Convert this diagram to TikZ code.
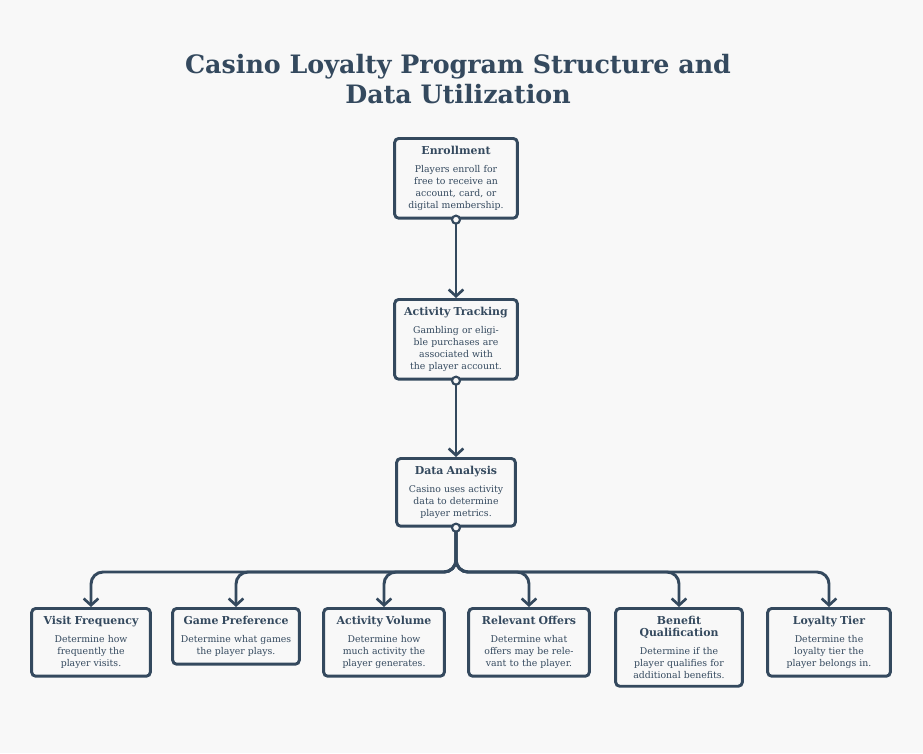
\documentclass[tikz,border=0pt]{standalone}
\usepackage{fontspec}
\setmainfont{DejaVu Serif}
\usetikzlibrary{arrows.meta,positioning}
\definecolor{ink}{HTML}{34495E}
\definecolor{bg}{HTML}{F8F8F8}
\tikzset{
  stepbox/.style={draw=ink, line width=2.2pt, rounded corners=3pt, fill=bg, anchor=north,
    align=center, inner xsep=4pt, inner ysep=6pt, text=ink, font=\fontsize{7}{9}\selectfont},
  link/.style={draw=ink, line width=2.2pt, rounded corners=9pt, -{Straight Barb[length=5pt,width=11pt,line width=2pt]}},
  dot/.style={circle, draw=ink, line width=1.6pt, fill=bg, inner sep=0pt, minimum size=6pt}
}
\newcommand{\boxhead}[1]{{\fontsize{8.2}{10}\selectfont\bfseries #1}\\[4pt]}
\begin{document}
\begin{tikzpicture}[x=0.75pt,y=-0.75pt]
\fill[bg] (0,0) rectangle (923,753);
\node[text=ink, font=\fontsize{19}{23}\selectfont\bfseries, align=center] (title) at (458,79) {Casino Loyalty Program Structure and\\Data Utilization};

\node[stepbox, text width=112pt*0.75] (enr) at (456,137) {\boxhead{Enrollment}Players enroll for free to receive an account, card, or digital membership.};
\node[stepbox, text width=112pt*0.75] (act) at (456,298) {\boxhead{Activity Tracking}Gambling or eligible purchases are associated with the player account.};
\node[stepbox, text width=108pt*0.75] (ana) at (456,457) {\boxhead{Data Analysis}Casino uses activity data to determine player metrics.};

\node[stepbox, text width=108pt*0.75] (vis) at (91,607) {\boxhead{Visit Frequency}Determine how frequently the player visits.};
\node[stepbox, text width=116pt*0.75] (gam) at (236,607) {\boxhead{Game Preference}Determine what games the player plays.};
\node[stepbox, text width=110pt*0.75] (vol) at (384,607) {\boxhead{Activity Volume}Determine how much activity the player generates.};
\node[stepbox, text width=110pt*0.75] (off) at (529,607) {\boxhead{Relevant Offers}Determine what offers may be relevant to the player.};
\node[stepbox, text width=116pt*0.75] (ben) at (679,607) {\boxhead{Benefit\\Qualification}Determine if the player qualifies for additional benefits.};
\node[stepbox, text width=112pt*0.75] (tie) at (829,607) {\boxhead{Loyalty Tier}Determine the loyalty tier the player belongs in.};

\draw[link] (enr.south) -- (act.north);
\draw[link] (act.south) -- (ana.north);
\coordinate (bus) at (456,572);
\foreach \kid in {vis,gam,vol,off,ben,tie}
  \draw[link] (ana.south) -- (bus) -| (\kid.north);
\foreach \src in {enr,act,ana}
  \node[dot] at (\src.south) {};
\end{tikzpicture}
\end{document}
